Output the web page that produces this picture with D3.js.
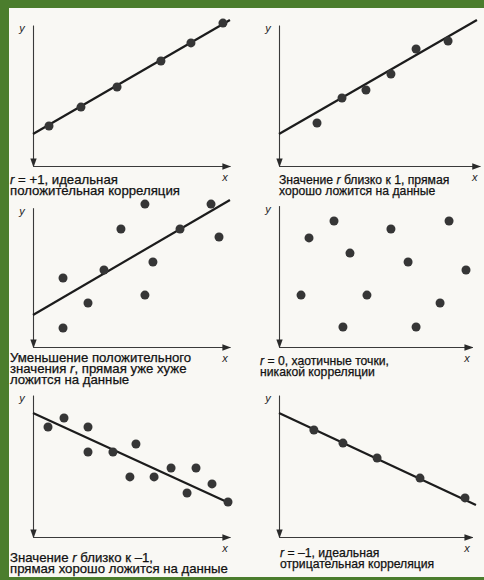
<!DOCTYPE html>
<html>
<head>
<meta charset="utf-8">
<script src="https://cdn.jsdelivr.net/npm/d3@7"></script>
<style>
  html, body { margin: 0; padding: 0; background: #f9f8f4; }
  svg { display: block; font-family: "Liberation Sans", Arial, sans-serif; }
</style>
</head>
<body>
<div id="chart"></div>
<script>
// values, in arbitrary 0..10 units per panel
const p1X = [0.82, 2.46, 4.31, 6.56, 8.10, 9.74];
const p1Y = [2.86, 4.21, 5.64, 7.50, 8.79, 10.21];
const p1Line = [[0, 2.29], [10.1, 10.43]];

const p2X = [1.95, 3.23, 4.46, 5.74, 7.03, 8.67];
const p2Y = [3.07, 4.86, 5.43, 6.57, 8.36, 8.93];
const p2Line = [[0, 2.29], [10.15, 10.43]];

const p3X = [1.54, 1.54, 2.82, 3.64, 4.51, 5.74, 5.74, 6.15, 7.54, 9.13, 9.54];
const p3Y = [4.93, 1.36, 3.14, 5.50, 8.43, 10.21, 3.71, 6.07, 8.43, 10.21, 7.86];
const p3Line = [[0, 2.29], [10.1, 10.5]];

const p4X = [1.54, 2.82, 3.64, 1.13, 3.28, 4.51, 5.74, 6.62, 7.03, 8.26, 8.72, 9.59];
const p4Y = [7.79, 9.00, 6.71, 3.71, 1.43, 3.71, 8.43, 6.07, 1.43, 3.14, 9.00, 5.50];
const p4Line = null;

const p5X = [0.77, 1.59, 2.82, 2.82, 4.10, 5.28, 4.97, 6.21, 7.08, 7.90, 8.36, 9.18, 10.0];
const p5Y = [7.86, 8.50, 7.86, 6.07, 6.07, 6.64, 4.29, 4.29, 4.93, 3.14, 4.93, 3.79, 2.50];
const p5Line = [[0, 8.86], [9.95, 2.5]];

const p6X = [1.79, 3.28, 5.03, 7.23, 9.54];
const p6Y = [7.64, 6.71, 5.64, 4.21, 2.79];
const p6Line = [[0, 8.86], [10.1, 2.29]];

// captions: "*" marks the italic r
const captions = [
  ["*r* = +1, идеальная", "положительная корреляция"],
  ["Значение *r* близко к 1, прямая", "хорошо ложится на данные"],
  ["Уменьшение положительного", "значения *r*, прямая уже хуже", "ложится на данные"],
  ["*r* = 0, хаотичные точки,", "никакой корреляции"],
  ["Значение *r* близко к –1,", "прямая хорошо ложится на данные"],
  ["*r* = –1, идеальная", "отрицательная корреляция"]
];

const width = 484, height = 580;
const colX = [33, 279];
const rowBottom = [166, 347, 537];
const unitW = 19.5, unitH = 14;

const panels = [
  {x: p1X, y: p1Y, line: p1Line, col: 0, row: 0, xMax: 10.1, yMax: 10.07, cap: {x: 10, y: 184, size: 13.2}},
  {x: p2X, y: p2Y, line: p2Line, col: 1, row: 0, xMax: 10.3, yMax: 10.07, cap: {x: 279, y: 184, size: 12.2}},
  {x: p3X, y: p3Y, line: p3Line, col: 0, row: 1, xMax: 10.1, yMax: 9.95, cap: {x: 10, y: 362, size: 13.2}},
  {x: p4X, y: p4Y, line: p4Line, col: 1, row: 1, xMax: 9.9, yMax: 10.1, cap: {x: 260, y: 365, size: 12.2}},
  {x: p5X, y: p5Y, line: p5Line, col: 0, row: 2, xMax: 10.1, yMax: 10.14, cap: {x: 10, y: 562, size: 13.2}},
  {x: p6X, y: p6Y, line: p6Line, col: 1, row: 2, xMax: 9.9, yMax: 10.14, cap: {x: 280, y: 557, size: 12.2}}
];

const svg = d3.select("#chart").append("svg")
  .attr("width", width)
  .attr("height", height)
  .attr("viewBox", [0, 0, width, height]);

svg.append("rect").attr("width", width).attr("height", height).attr("fill", "#f9f8f4");

svg.append("defs").append("marker")
  .attr("id", "arrow")
  .attr("viewBox", "0 0 10 10")
  .attr("refX", 9).attr("refY", 5)
  .attr("markerWidth", 9).attr("markerHeight", 9)
  .attr("markerUnits", "userSpaceOnUse")
  .attr("orient", "auto")
  .append("path")
  .attr("d", "M0,1.5 L10,5 L0,8.5 Z")
  .attr("fill", "#2a2a2a");

panels.forEach((p, i) => {
  const x0 = colX[p.col], y0 = rowBottom[p.row];
  const x = d3.scaleLinear().domain([0, 10]).range([x0, x0 + 10 * unitW]);
  const y = d3.scaleLinear().domain([0, 10]).range([y0, y0 - 10 * unitH]);
  const g = svg.append("g");

  // axes (no ticks, arrow at the end)
  g.append("g")
    .attr("transform", `translate(0,${y0})`)
    .call(d3.axisBottom(x.copy().domain([0, p.xMax]).range([x0, x(p.xMax)])).tickValues([]).tickSizeOuter(0));
  g.append("g")
    .attr("transform", `translate(${x0},0)`)
    .call(d3.axisLeft(y.copy().domain([p.yMax, 0]).range([y(p.yMax), y0])).tickValues([]).tickSizeOuter(0));
  g.selectAll(".domain")
    .attr("stroke", "#3a3a3a")
    .attr("stroke-width", 1.1)
    .attr("marker-end", "url(#arrow)");

  g.append("text")
    .attr("x", x0 - 11).attr("y", y(p.yMax) + 7)
    .attr("font-size", 11).attr("font-style", "italic")
    .attr("text-anchor", "middle").attr("fill", "#222")
    .text("y");
  g.append("text")
    .attr("x", x(p.xMax) - 5).attr("y", y0 + 15)
    .attr("font-size", 11).attr("font-style", "italic")
    .attr("text-anchor", "middle").attr("fill", "#222")
    .text("x");

  if (p.line) {
    g.append("path")
      .datum(p.line)
      .attr("fill", "none")
      .attr("stroke", "#1c1c1c")
      .attr("stroke-width", 2.2)
      .attr("d", d3.line().x(d => x(d[0])).y(d => y(d[1])));
  }

  g.selectAll("circle")
    .data(d3.range(p.x.length))
    .join("circle")
    .attr("cx", j => x(p.x[j]))
    .attr("cy", j => y(p.y[j]))
    .attr("r", 4.5)
    .attr("fill", "#363636");

  // caption
  const t = g.append("text")
    .attr("font-size", p.cap.size)
    .attr("fill", "#111")
    .attr("stroke", "#111")
    .attr("stroke-width", 0.25);
  captions[i].forEach((line, k) => {
    const row = t.append("tspan")
      .attr("x", p.cap.x)
      .attr("y", p.cap.y + k * 11);
    line.split("*").forEach((part, m) => {
      if (!part) return;
      row.append("tspan")
        .attr("font-style", m % 2 ? "italic" : null)
        .text(part);
    });
  });
});

// green frame of the source picture
const green = "#4b7d2d";
svg.append("rect").attr("x", 0).attr("y", 0).attr("width", width).attr("height", 8).attr("fill", green);
svg.append("rect").attr("x", 0).attr("y", 0).attr("width", 9).attr("height", height).attr("fill", green);
svg.append("rect").attr("x", 0).attr("y", 577).attr("width", width).attr("height", 3).attr("fill", green);
</script>
</body>
</html>
